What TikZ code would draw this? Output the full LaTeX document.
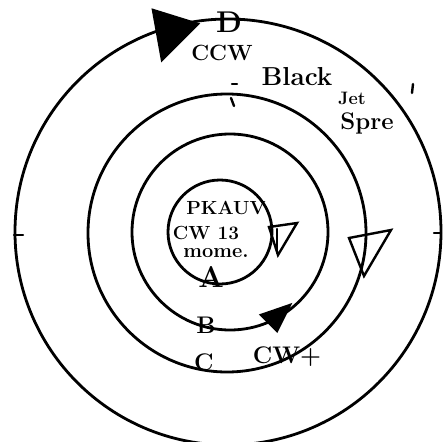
\documentclass[tikz,border=0pt]{standalone}
\usepackage{tikz}
\usetikzlibrary{calc}

\begin{document}
\begin{tikzpicture}[x=1pt, y=-1pt,
    ring/.style={draw=black, line width=2.8pt},
    stroke/.style={draw=black, line width=2.4pt, line cap=round},
    hand/.style={inner sep=0pt, font=\bfseries\fontsize{#1}{#1}\selectfont}]
    \useasboundingbox (0,0) rectangle (446,441);

    % orbits
    \coordinate (ctr) at (228,232);
    \draw[ring] (ctr) circle[radius=213];
    \draw[ring] (227,233) circle[radius=139];
    \draw[ring] (230,232) circle[radius=98];
    \draw[ring] (220,232) circle[radius=52];

    % small ticks
    \coordinate (tl) at (14,235);
    \coordinate (tr) at (441,233);
    \draw[stroke] (tl) -- ++(9,0);
    \draw[stroke] (tr) -- ++(-7,0);
    \draw[stroke] (231,98) -- (234,106);
    \draw[stroke] (232,84) -- (237,84);
    \draw[stroke] (413,84) -- (412,93);

    % arrow heads
    \draw[stroke, fill=black] (153,10) -- (198,24) -- (162,60) -- cycle;
    \draw[stroke, fill=black] (261,315) -- (290,305) -- (277,331) -- cycle;
    \draw[stroke] (269,227) -- (297,223) -- (278,255) -- cycle;
    \draw[stroke] (277,229) -- (277,253);
    \draw[stroke] (349,238) -- (391,230) -- (364,276) -- cycle;

    % labels
    \node[hand=30] (labD) at (229,22) {D};
    \node[hand=22] (labCCW) at (222,53) {CCW};
    \node[hand=26] (labBlack) at (297,77) {Black};
    \node[hand=18] (labJet) at (352,98) {Jet};
    \node[hand=24] (labSpre) at (367,123) {Spre};
    \node[hand=19] (labPK) at (226,208) {PKAUV};
    \node[hand=19] (labCW) at (206,233) {CW 13};
    \node[hand=20] (labMove) at (216,253) {mome.};
    \node[hand=30] (labA) at (211,277) {A};
    \node[hand=24] (labB) at (206,325) {B};
    \node[hand=24] (labC) at (204,362) {C};
    \node[hand=24] (labCWt) at (287,357) {CW+};
\end{tikzpicture}
\end{document}
